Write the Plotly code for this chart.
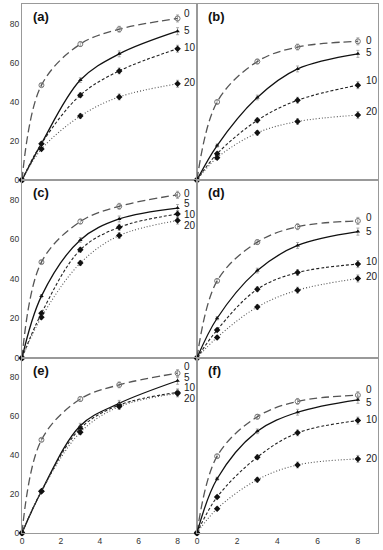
import plotly.graph_objects as go

time = [0, 1, 3, 5, 8]
series_names = ["0", "5", "10", "20"]
panel_labels = ["(a)", "(b)", "(c)", "(d)", "(e)", "(f)"]

# values per panel, per series (0, 5, 10, 20)
a_0 = [0, 48.5, 69.5, 77.1, 82.6]
a_5 = [0, 18.6, 51.1, 64.5, 76.1]
a_10 = [0, 18.6, 43.4, 55.8, 67.1]
a_20 = [0, 15.8, 32.7, 42.5, 49.2]

b_0 = [0, 39.9, 60.6, 68.0, 70.9]
b_5 = [0, 17.6, 42.2, 56.8, 64.5]
b_10 = [0, 13.4, 30.5, 40.8, 48.5]
b_20 = [0, 11.4, 24.1, 29.9, 33.2]

c_0 = [0, 48.5, 69.0, 76.7, 82.5]
c_5 = [0, 31.3, 59.7, 70.3, 75.8]
c_10 = [0, 22.6, 54.7, 66.1, 72.8]
c_20 = [0, 20.6, 48.0, 61.9, 69.5]

d_0 = [0, 39.0, 58.6, 66.4, 69.3]
d_5 = [0, 20.1, 44.2, 56.9, 63.9]
d_10 = [0, 14.2, 34.8, 43.2, 47.5]
d_20 = [0, 10.4, 25.8, 34.3, 40.2]

e_0 = [0, 47.9, 68.9, 76.2, 82.2]
e_5 = [0, 21.5, 55.2, 66.7, 78.3]
e_10 = [0, 21.5, 53.8, 65.8, 72.3]
e_20 = [0, 21.5, 51.8, 65.0, 71.8]

f_0 = [0, 39.5, 59.8, 67.7, 70.9]
f_5 = [0, 27.9, 52.3, 62.1, 68.5]
f_10 = [0, 18.5, 39.0, 51.5, 57.8]
f_20 = [0, 12.5, 27.4, 35.0, 38.1]

err_small = [0, 0.8, 1.2, 1.5, 1.8]

# label y positions for series labels at right of each panel
a_lab = [85.2, 76.6, 68.0, 49.9]
b_lab = [71.4, 65.1, 50.8, 34.8]
c_lab = [83.2, 78.2, 72.5, 66.9]
d_lab = [71.1, 63.9, 48.9, 41.0]
e_lab = [85.8, 80.0, 74.6, 69.2]
f_lab = [74.0, 67.2, 58.6, 38.1]

y_ticks = [0, 20, 40, 60, 80]
x_ticks = [0, 2, 4, 6, 8]

panels = [
    [a_0, a_5, a_10, a_20],
    [b_0, b_5, b_10, b_20],
    [c_0, c_5, c_10, c_20],
    [d_0, d_5, d_10, d_20],
    [e_0, e_5, e_10, e_20],
    [f_0, f_5, f_10, f_20],
]
labels_y = [a_lab, b_lab, c_lab, d_lab, e_lab, f_lab]

W, H = 383, 550
col_dom = [[22 / W, 197 / W], [197 / W, 378 / W]]
row_px = [(4, 180), (180, 358), (358, 533)]
row_dom = [[1 - b / H, 1 - t / H] for t, b in row_px]

styles = [
    dict(dash="8px,4px", color="#555555", width=1.3, marker=dict(symbol="circle-open", size=5, color="#777777", line=dict(width=1))),
    dict(dash="solid", color="#111111", width=1.3, marker=dict(symbol="triangle-up", size=4, color="#111111")),
    dict(dash="3px,2px", color="#222222", width=1.1, marker=dict(symbol="diamond", size=5, color="#111111")),
    dict(dash="1px,2px", color="#555555", width=1.1, marker=dict(symbol="diamond", size=5, color="#111111")),
]

fig = go.Figure()
font_family = "Liberation Sans, Arial, sans-serif"

for i, pdata in enumerate(panels):
    r, c = divmod(i, 2)
    n = i + 1
    xa = "x" if n == 1 else f"x{n}"
    ya = "y" if n == 1 else f"y{n}"
    for s, vals in enumerate(pdata):
        st = styles[s]
        fig.add_trace(go.Scatter(
            x=time, y=vals, mode="lines+markers",
            line=dict(shape="spline", smoothing=1.0, dash=st["dash"], color=st["color"], width=st["width"]),
            marker=st["marker"],
            error_y=dict(type="data", array=err_small, color="#999999", thickness=0.8, width=1.5),
            xaxis=xa, yaxis=ya, showlegend=False, cliponaxis=False,
        ))
        fig.add_annotation(
            x=8.25 if c == 0 else 8.3, y=labels_y[i][s], xref=xa, yref=ya,
            text=series_names[s], showarrow=False, xanchor="left", yanchor="middle",
            font=dict(size=10, color="#222222", family=font_family),
        )
    fig.add_annotation(
        x=0.05, y=0.93, xref=f"{xa} domain", yref=f"{ya} domain",
        text=f"<b>{panel_labels[i]}</b>", showarrow=False, xanchor="left", yanchor="middle",
        font=dict(size=13, color="#111111", family=font_family),
    )
    xkey = "xaxis" if n == 1 else f"xaxis{n}"
    ykey = "yaxis" if n == 1 else f"yaxis{n}"
    fig.layout[xkey] = dict(
        domain=col_dom[c], anchor=ya, range=[0, 9], tickvals=x_ticks,
        showticklabels=(r == 2), showgrid=False, zeroline=False, automargin=False,
        showline=True, linecolor="#999999", linewidth=1.2, mirror=True,
        tickfont=dict(size=8.5, color="#333333", family=font_family), ticks="",
    )
    fig.layout[ykey] = dict(
        domain=row_dom[r], anchor=xa, range=[0, 90], tickvals=y_ticks,
        showticklabels=(c == 0), showgrid=False, zeroline=False, automargin=False,
        showline=True, linecolor="#999999", linewidth=1.2, mirror=True,
        tickfont=dict(size=8.5, color="#333333", family=font_family), ticks="",
    )

fig.update_layout(
    width=W, height=H, margin=dict(l=0, r=0, t=0, b=0),
    paper_bgcolor="white", plot_bgcolor="white",
    font=dict(family=font_family),
)

fig.write_html(
    "out.html",
    config={"displayModeBar": False},
    post_script="document.body.style.margin='0';document.body.style.overflow='hidden';",
)
